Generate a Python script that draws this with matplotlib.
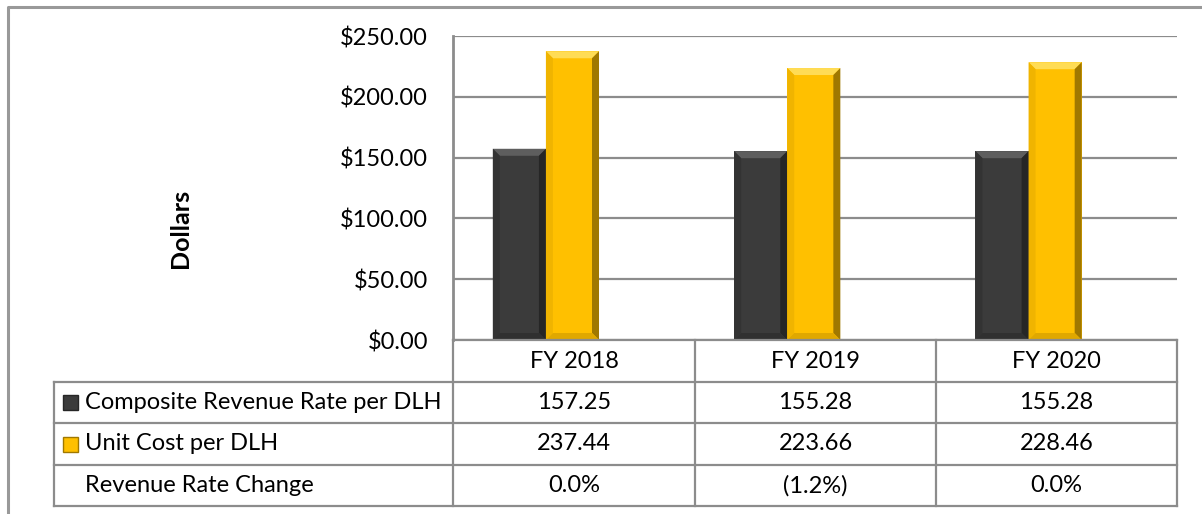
import matplotlib.pyplot as plt
from matplotlib.patches import Polygon, Rectangle
import numpy as np

plt.rcParams['font.family'] = ['Lato', 'DejaVu Sans']

years = ['FY 2018', 'FY 2019', 'FY 2020']
revenue_rate = [157.25, 155.28, 155.28]
unit_cost = [237.44, 223.66, 228.46]
rate_change = ['0.0%', '(1.2%)', '0.0%']
row_labels = ['Composite Revenue Rate per DLH', 'Unit Cost per DLH', 'Revenue Rate Change']
yticks = [0, 50, 100, 150, 200, 250]

W, H = 1202, 514
fig = plt.figure(figsize=(W / 100, H / 100), dpi=100)
fs = 17

# plot area in pixels
px_l, px_r, px_t, px_b = 453, 1177, 36, 340
ax = fig.add_axes([px_l / W, 1 - px_b / H, (px_r - px_l) / W, (px_b - px_t) / H])
ax.set_xlim(-0.5, 2.5)
ax.set_ylim(0, 250)
ax.set_yticks(yticks)
ax.set_yticklabels([f'${v:,.2f}' for v in yticks], fontsize=fs)
ax.set_xticks([])
ax.tick_params(axis='y', length=0, pad=18)
grid_c = '#8c8c8c'
ax.yaxis.grid(True, color=grid_c, lw=1.6)
ax.set_axisbelow(True)
for s in ['top', 'right', 'bottom']:
    ax.spines[s].set_visible(False)
ax.spines['left'].set_color(grid_c)
ax.spines['left'].set_linewidth(2)

# pixel -> data scale for bevel size
sx = 3 / (px_r - px_l)
sy = 250 / (px_b - px_t)
bev = 7


def bevel_bar(ax, xc, w, h, face, top, left, right, bottom):
    x0, x1 = xc - w / 2, xc + w / 2
    dx, dy = bev * sx, bev * sy
    ax.add_patch(Rectangle((x0, 0), w, h, facecolor=face, edgecolor='none', zorder=3))
    ax.add_patch(Polygon([(x0, h), (x1, h), (x1 - dx, h - dy), (x0 + dx, h - dy)],
                         facecolor=top, edgecolor='none', zorder=4))
    ax.add_patch(Polygon([(x0, 0), (x0, h), (x0 + dx, h - dy), (x0 + dx, dy)],
                         facecolor=left, edgecolor='none', zorder=4))
    ax.add_patch(Polygon([(x1, 0), (x1, h), (x1 - dx, h - dy), (x1 - dx, dy)],
                         facecolor=right, edgecolor='none', zorder=4))
    ax.add_patch(Polygon([(x0, 0), (x1, 0), (x1 - dx, dy), (x0 + dx, dy)],
                         facecolor=bottom, edgecolor='none', zorder=4))


bw = 0.22
x = np.arange(len(years))
for i in range(len(years)):
    bevel_bar(ax, x[i] - 0.225, bw, revenue_rate[i],
              '#3b3b3b', '#5e5e5e', '#333333', '#262626', '#303030')
    bevel_bar(ax, x[i] - 0.005, bw, unit_cost[i],
              '#ffc000', '#ffdc55', '#f0b400', '#a07800', '#e0a800')

ax.text((180 - px_l) / (px_r - px_l), (px_b - 228) / (px_b - px_t), 'Dollars',
        transform=ax.transAxes, rotation=90,
        fontsize=18, fontweight='bold', ha='center', va='center')

# overlay in pixel coordinates for table and frame
ov = fig.add_axes([0, 0, 1, 1], facecolor='none')
ov.set_xlim(0, W)
ov.set_ylim(H, 0)
ov.axis('off')

ov.plot([8, 8, W], [H, 7, 7], color='#999999', lw=2.2, solid_capstyle='butt')

cols = [54, 453, 695, 936, 1177]
rows = [340, 382, 423, 465, 506]
lc = '#8c8c8c'
lw = 1.6
ov.plot([cols[1], cols[-1]], [rows[0], rows[0]], color=lc, lw=lw)
for r in rows[1:]:
    ov.plot([cols[0], cols[-1]], [r, r], color=lc, lw=lw)
ov.plot([cols[0], cols[0]], [rows[1], rows[-1]], color=lc, lw=lw)
for c in cols[1:]:
    ov.plot([c, c], [rows[0], rows[-1]], color=lc, lw=lw)

table_vals = [years,
              [f'{v:.2f}' for v in revenue_rate],
              [f'{v:.2f}' for v in unit_cost],
              rate_change]
for ri in range(4):
    yc = (rows[ri] + rows[ri + 1]) / 2
    for ci in range(3):
        xc = (cols[ci + 1] + cols[ci + 2]) / 2
        ov.text(xc, yc, table_vals[ri][ci], ha='center', va='center', fontsize=fs)
    if ri > 0:
        ov.text(85, yc, row_labels[ri - 1], ha='left', va='center', fontsize=fs)

# legend keys
key_cols = [('#3b3b3b', '#262626'), ('#ffc000', '#a07800')]
for k, (fc, ec) in enumerate(key_cols):
    yc = (rows[k + 1] + rows[k + 2]) / 2
    ov.add_patch(Rectangle((63, yc - 7.5), 15, 15, facecolor=fc, edgecolor=ec, lw=1))

fig.savefig('out.png', dpi=100)
